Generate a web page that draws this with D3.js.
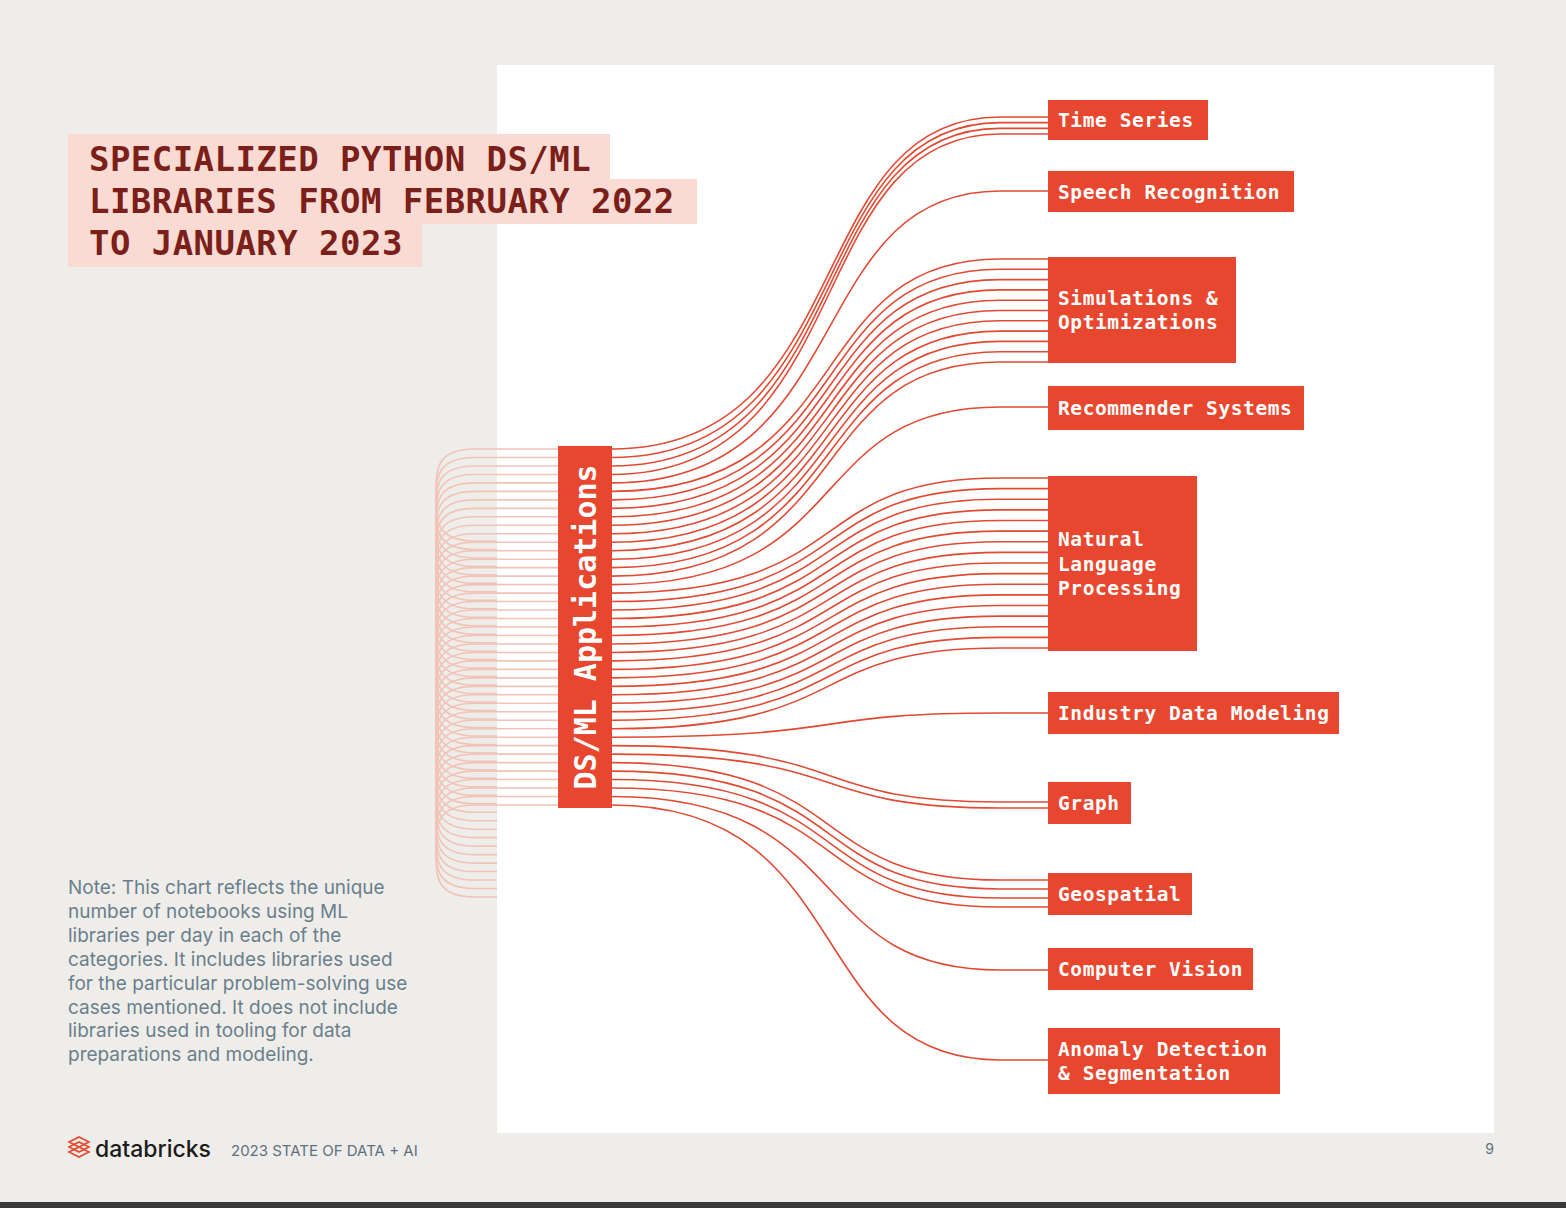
<!DOCTYPE html>
<html><head><meta charset="utf-8">
<script src="https://cdn.jsdelivr.net/npm/d3@7"></script>
<style>body{margin:0;background:#efede9;overflow:hidden}</style>
</head><body>
<div id="chart"></div>
<script>
// Categories and number of libraries (lines) in each
const categories = ["Time Series", "Speech Recognition", "Simulations & Optimizations", "Recommender Systems",
  "Natural Language Processing", "Industry Data Modeling", "Graph", "Geospatial", "Computer Vision",
  "Anomaly Detection & Segmentation"];
const libCounts = [4, 1, 11, 1, 17, 1, 2, 4, 1, 1];
// label lines inside each box
const labelLines = [["Time Series"], ["Speech Recognition"], ["Simulations &", "Optimizations"], ["Recommender Systems"],
  ["Natural", "Language", "Processing"], ["Industry Data Modeling"], ["Graph"], ["Geospatial"], ["Computer Vision"],
  ["Anomaly Detection", "& Segmentation"]];
const titleLines = ["SPECIALIZED PYTHON DS/ML", "LIBRARIES FROM FEBRUARY 2022", "TO JANUARY 2023"];

const RED = "#e8472f", LINE = "#e14a33", PINK = "#f1c3b9";
const W = 1566, H = 1208;
const svg = d3.select("#chart").append("svg").attr("width", W).attr("height", H);
svg.append("rect").attr("width", W).attr("height", H).attr("fill", "#efede9");
svg.append("rect").attr("x", 0).attr("y", 1202).attr("width", W).attr("height", 6).attr("fill", "#3a3a3a");
svg.append("rect").attr("x", 497).attr("y", 65).attr("width", 997).attr("height", 1068).attr("fill", "#fff");

// Box geometry for each category (top, bottom, right edge)
const boxes = [[100,140,1208],[171,212,1294],[257,363,1236],[386,430,1304],[476,651,1197],
  [692,734,1339],[782,824,1131],[873,915,1192],[948,990,1253],[1028,1094,1280]];
// line targets inside each box
const lineSpread = [[117,134],[191,191],[259,362],[407,407],[478,648],[713,713],[802,808],[880,907],[970,970],[1060,1060]];

const total = d3.sum(libCounts);
const ySrc = d3.scaleLinear().domain([0, total - 1]).range([449, 805]);

// pink loops on the left
const loops = svg.append("g").attr("fill", "none").attr("stroke", PINK).attr("stroke-width", 1.6);
d3.range(total).forEach(i => {
  const y = ySrc(i), y2 = y + 92;
  const p = d3.path();
  p.moveTo(558, y); p.lineTo(475, y);
  p.bezierCurveTo(436, y, 436, y + 20, 436, y + 46);
  p.bezierCurveTo(436, y2 - 20, 436, y2, 475, y2);
  p.lineTo(497, y2);
  loops.append("path").attr("d", p.toString());
});

// flow lines
const flows = svg.append("g").attr("fill", "none").attr("stroke", LINE).attr("stroke-width", 1.6);
let idx = 0;
categories.forEach((c, ci) => {
  const n = libCounts[ci];
  const ty = n > 1 ? d3.scaleLinear().domain([0, n - 1]).range(lineSpread[ci]) : () => lineSpread[ci][0];
  for (let k = 0; k < n; k++) {
    const ys = ySrc(idx++), yt = ty(k);
    flows.append("path").attr("d", "M612," + ys + "C860," + ys + " 800," + yt + " 1000," + yt + "L1050," + yt);
  }
});

// category boxes
const mono = "DejaVu Sans Mono, monospace";
categories.forEach((c, ci) => {
  const [t, b, r] = boxes[ci];
  svg.append("rect").attr("x", 1048).attr("y", t).attr("width", r - 1048).attr("height", b - t).attr("fill", RED);
  const lines = labelLines[ci], lh = 24.5, cy = (t + b) / 2;
  lines.forEach((l, li) => {
    svg.append("text").attr("x", 1058).attr("y", cy + (li - (lines.length - 1) / 2) * lh + 7)
      .attr("fill", "#fff").attr("font-family", mono).attr("font-weight", "bold").attr("font-size", 19.5)
      .attr("letter-spacing", 0.6).text(l);
  });
});

// central box
svg.append("rect").attr("x", 558).attr("y", 446).attr("width", 54).attr("height", 362).attr("fill", RED);
svg.append("text").attr("transform", "translate(596,627) rotate(-90)").attr("text-anchor", "middle")
  .attr("fill", "#fff").attr("font-family", mono).attr("font-weight", "bold").attr("font-size", 30).text("DS/ML Applications");

// title
const tw = [542, 629, 354];
titleLines.forEach((l, i) => {
  svg.append("rect").attr("x", 68).attr("y", 134 + i * 45).attr("width", tw[i]).attr("height", i == 2 ? 43 : 45).attr("fill", "#fadbd3");
  svg.append("text").attr("x", 89).attr("y", 171 + i * 42).attr("fill", "#7b1f1a").attr("font-family", mono)
    .attr("font-weight", "bold").attr("font-size", 34).attr("letter-spacing", 0.45).text(l);
});

// note
const note = ["Note: This chart reflects the unique", "number of notebooks using ML", "libraries per day in each of the",
  "categories. It includes libraries used", "for the particular problem-solving use", "cases mentioned. It does not include",
  "libraries used in tooling for data", "preparations and modeling."];
note.forEach((l, i) => svg.append("text").attr("x", 68).attr("y", 894 + i * 23.9).attr("fill", "#6a7f8c")
  .attr("font-family", "Inter, sans-serif").attr("font-size", 19).text(l));

// footer
const logo = svg.append("g").attr("fill", "none").attr("stroke", "#e8472f").attr("stroke-width", 1.6);
[0, 5, 10].forEach(d => logo.append("path").attr("d", `M69,${1142 + d} L79,${1137 + d} L89,${1142 + d} L79,${1147 + d} Z`));
svg.append("text").attr("x", 95).attr("y", 1157).attr("fill", "#1b1b1b").attr("font-family", "Inter, sans-serif")
  .attr("font-size", 23).attr("font-weight", 500).text("databricks");
svg.append("text").attr("x", 231).attr("y", 1156).attr("fill", "#5d7180").attr("font-family", "Inter, sans-serif")
  .attr("font-size", 15).text("2023 STATE OF DATA + AI");
svg.append("text").attr("x", 1494).attr("y", 1154).attr("text-anchor", "end").attr("fill", "#5d7180")
  .attr("font-family", "Inter, sans-serif").attr("font-size", 14).text("9");
</script>
</body></html>
